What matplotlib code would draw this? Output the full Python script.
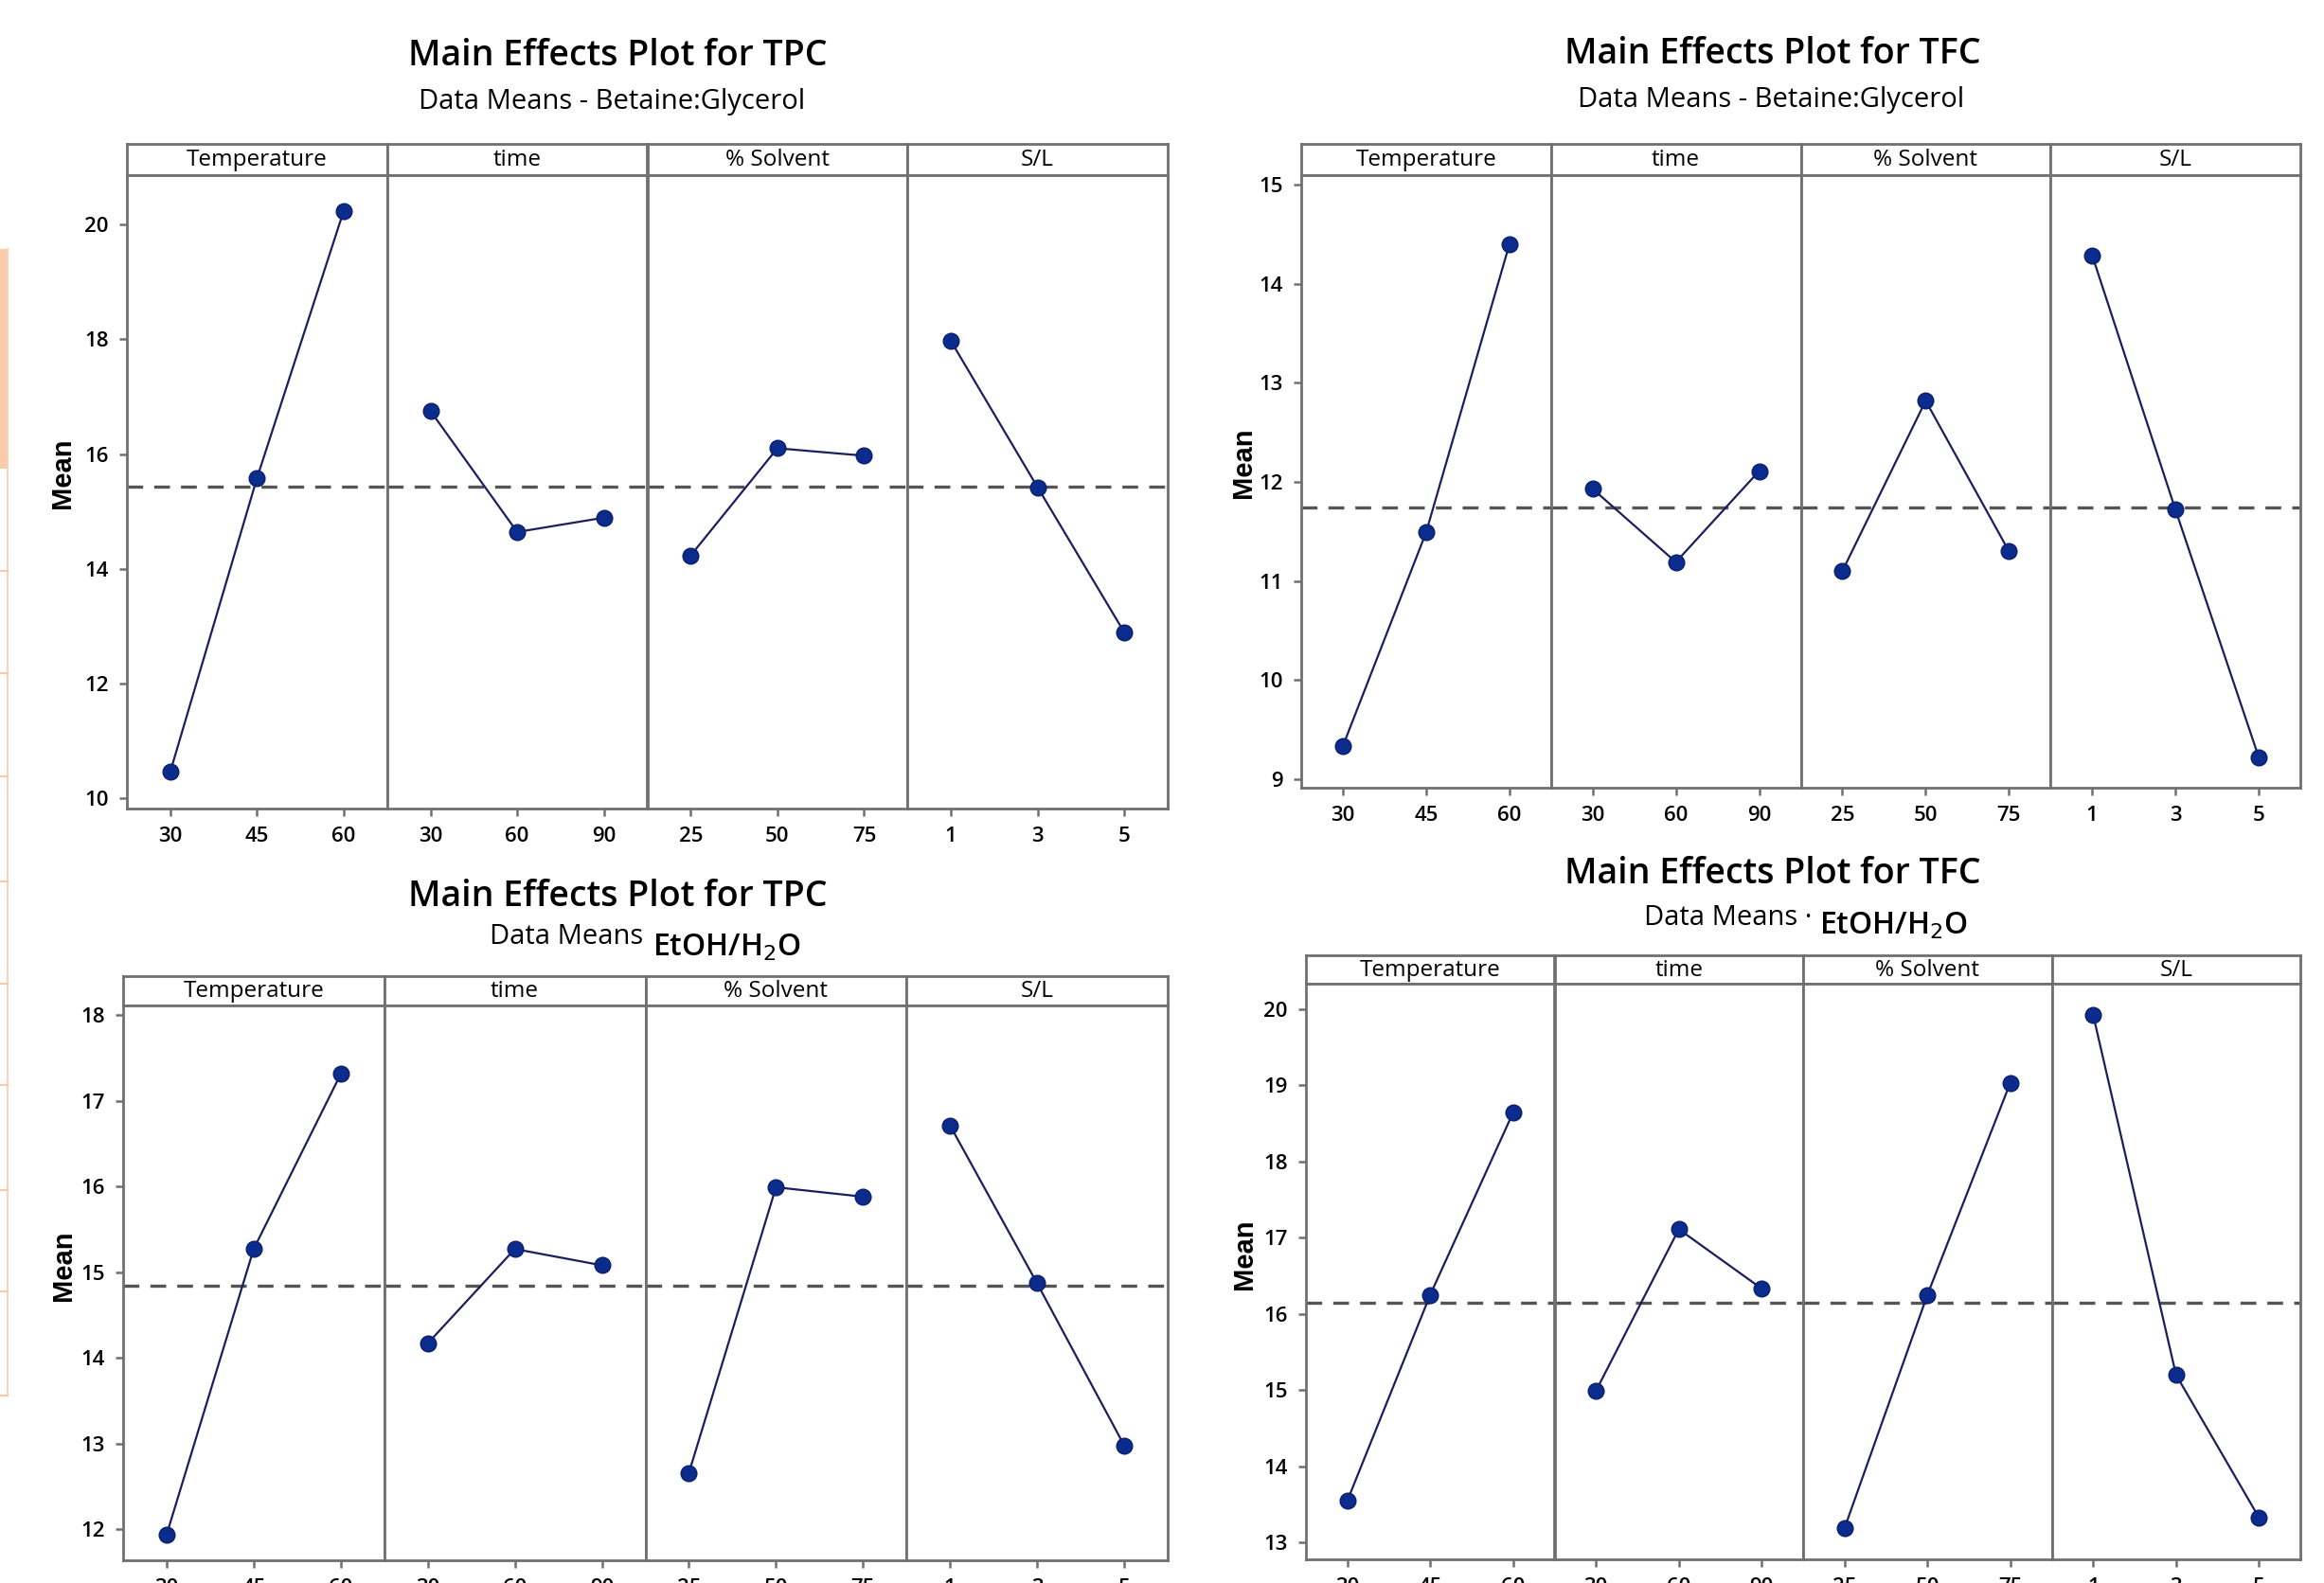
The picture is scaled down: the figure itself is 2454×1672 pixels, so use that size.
import matplotlib
matplotlib.use("Agg")
import matplotlib.pyplot as plt
import numpy as np
from matplotlib.patches import Rectangle
from matplotlib.lines import Line2D

# ---------------- data ----------------
factors = ["Temperature", "time", "% Solvent", "S/L"]
temperature_levels = ["30", "45", "60"]
time_levels = ["30", "60", "90"]
solvent_levels = ["25", "50", "75"]
sl_levels = ["1", "3", "5"]
level_labels = [temperature_levels, time_levels, solvent_levels, sl_levels]

# TPC, Betaine:Glycerol
tpc_bg_temperature = [10.46, 15.58, 20.24]
tpc_bg_time = [16.75, 14.64, 14.89]
tpc_bg_solvent = [14.23, 16.10, 15.97]
tpc_bg_sl = [17.97, 15.42, 12.89]

# TFC, Betaine:Glycerol
tfc_bg_temperature = [9.33, 11.49, 14.40]
tfc_bg_time = [11.93, 11.19, 12.11]
tfc_bg_solvent = [11.10, 12.82, 11.30]
tfc_bg_sl = [14.29, 11.72, 9.22]

# TPC, EtOH/H2O
tpc_et_temperature = [11.94, 15.27, 17.31]
tpc_et_time = [14.17, 15.27, 15.08]
tpc_et_solvent = [12.66, 15.99, 15.88]
tpc_et_sl = [16.71, 14.87, 12.98]

# TFC, EtOH/H2O
tfc_et_temperature = [13.55, 16.25, 18.64]
tfc_et_time = [14.99, 17.11, 16.33]
tfc_et_solvent = [13.19, 16.25, 19.03]
tfc_et_sl = [19.92, 15.20, 13.33]

tpc_bg_yticks = [10, 12, 14, 16, 18, 20]
tfc_bg_yticks = [9, 10, 11, 12, 13, 14, 15]
tpc_et_yticks = [12, 13, 14, 15, 16, 17, 18]
tfc_et_yticks = [13, 14, 15, 16, 17, 18, 19, 20]

# ---------------- style ----------------
W, H = 2454, 1672
FRAME = "#707070"
LINE = "#1c1f5e"
MARK = "#0b2c8c"
MARK_EDGE = "#08206a"
TXT_FAMILY = ["Open Sans", "DejaVu Sans"]

fig = plt.figure(figsize=(W / 100, H / 100), dpi=100)
fig.patch.set_facecolor("white")


def fx(x):
    return x / W


def fy(y):
    return 1 - y / H


def panel(left, right, strip_top, strip_bot, bottom, series, yticks, ylim):
    n = len(series)
    width = (right - left) / n
    allvals = np.concatenate([np.asarray(s) for s in series])
    grand_mean = allvals.mean()
    for j, vals in enumerate(series):
        x0 = left + j * width
        # strip header
        sax = fig.add_axes([fx(x0), fy(strip_bot), width / W, (strip_bot - strip_top) / H])
        sax.set_xticks([])
        sax.set_yticks([])
        for sp in sax.spines.values():
            sp.set_color(FRAME)
            sp.set_linewidth(2.0)
        sax.text(0.5, 0.47, factors[j], ha="center", va="center", fontsize=17.5,
                 family=TXT_FAMILY, fontweight="medium", transform=sax.transAxes,
                 color="black")
        # data axes
        ax = fig.add_axes([fx(x0), fy(bottom), width / W, (bottom - strip_bot) / H])
        xs = np.arange(len(vals))
        ax.axhline(grand_mean, color="#555555", lw=2.4, ls=(0, (5, 3.5)), zorder=1)
        ax.plot(xs, vals, color=LINE, lw=1.6, zorder=2)
        ax.plot(xs, vals, ls="none", marker="o", ms=12, mfc=MARK, mec=MARK_EDGE,
                mew=1.0, zorder=3)
        ax.set_xlim(-0.5, len(vals) - 0.5)
        ax.set_ylim(*ylim)
        ax.set_xticks(xs)
        ax.set_xticklabels(level_labels[j], fontsize=16, family=TXT_FAMILY,
                           fontweight="semibold")
        if j == 0:
            ax.set_yticks(yticks)
            ax.set_yticklabels([str(t) for t in yticks], fontsize=16, family=TXT_FAMILY,
                               fontweight="semibold")
        else:
            ax.set_yticks([])
        ax.tick_params(axis="both", direction="out", length=6, width=1.8,
                       color=FRAME, pad=8)
        for sp in ax.spines.values():
            sp.set_color(FRAME)
            sp.set_linewidth(2.0)


def mean_label(xc, yc):
    fig.text(fx(xc), fy(yc), "Mean", rotation=90, ha="center", va="center",
             fontsize=21, fontweight="bold", family=["Liberation Sans", "DejaVu Sans"])


def title(xc, yc, s):
    fig.text(fx(xc), fy(yc), s, ha="center", va="center", fontsize=27,
             fontweight="semibold", family=TXT_FAMILY)


def subtitle(xc, yc, s):
    fig.text(fx(xc), fy(yc), s, ha="center", va="center", fontsize=21,
             fontweight="medium", family=TXT_FAMILY)


# Panel A
panel(134, 1233, 152, 185, 854,
      [tpc_bg_temperature, tpc_bg_time, tpc_bg_solvent, tpc_bg_sl],
      tpc_bg_yticks, (9.82, 20.86))
title(652, 59, "Main Effects Plot for TPC")
subtitle(646, 107, "Data Means - Betaine:Glycerol")
mean_label(66, 500)

# Panel B
panel(1374, 2429, 152, 185, 832,
      [tfc_bg_temperature, tfc_bg_time, tfc_bg_solvent, tfc_bg_sl],
      tfc_bg_yticks, (8.91, 15.10))
title(1872, 57, "Main Effects Plot for TFC")
subtitle(1870, 105, "Data Means - Betaine:Glycerol")
mean_label(1313, 489)

# Panel C
panel(130, 1233, 1031, 1062, 1648,
      [tpc_et_temperature, tpc_et_time, tpc_et_solvent, tpc_et_sl],
      tpc_et_yticks, (11.64, 18.11))
title(652, 947, "Main Effects Plot for TPC")
subtitle(598, 990, "Data Means")
fig.text(fx(767), fy(1001), "EtOH/H$_2$O", ha="center", va="center",
         fontsize=23, fontweight="semibold", family=TXT_FAMILY)
mean_label(67, 1337)

# Panel D
panel(1379, 2429, 1009, 1039, 1647,
      [tfc_et_temperature, tfc_et_time, tfc_et_solvent, tfc_et_sl],
      tfc_et_yticks, (12.78, 20.33))
title(1872, 923, "Main Effects Plot for TFC")
subtitle(1825, 970, "Data Means \u00b7")
fig.text(fx(1999), fy(978), "EtOH/H$_2$O", ha="center", va="center",
         fontsize=23, fontweight="semibold", family=TXT_FAMILY)
mean_label(1314, 1325)

# peach artefact at the left edge of the original picture
PEACH = "#f9cbab"
fig.add_artist(Rectangle((0, fy(495)), fx(8), (495 - 263) / H, transform=fig.transFigure,
                         facecolor=PEACH, edgecolor="none"))
fig.add_artist(Line2D([fx(8), fx(8)], [fy(263), fy(1474)], transform=fig.transFigure,
                      color="#f7d3bb", lw=1.5))
for yy in [603, 711, 820, 931, 1039, 1146, 1257, 1364, 1474]:
    fig.add_artist(Line2D([0, fx(8)], [fy(yy), fy(yy)], transform=fig.transFigure,
                          color="#f7c9aa", lw=1.5))

fig.savefig("out.png", dpi=100, facecolor="white")
